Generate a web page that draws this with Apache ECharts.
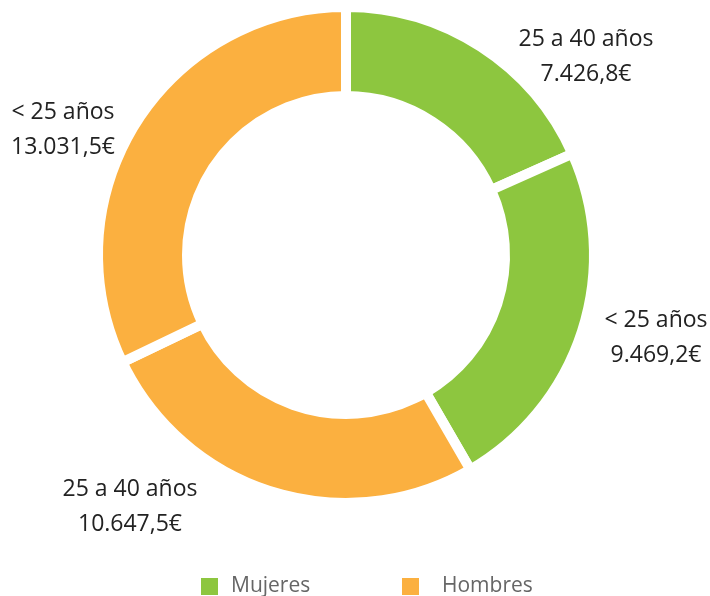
<!DOCTYPE html>
<html>
<head>
<meta charset="utf-8">
<script src="https://cdn.jsdelivr.net/npm/echarts@6/dist/echarts.min.js"></script>
<style>
html,body{margin:0;padding:0;background:#fff;}
#chart{width:710px;height:596px;}
</style>
</head>
<body>
<div id="chart"></div>
<script>
// Data
var categories = ['25 a 40 años', '< 25 años', '25 a 40 años', '< 25 años'];
var groups = ['Mujeres', 'Mujeres', 'Hombres', 'Hombres'];
var values = [7426.8, 9469.2, 10647.5, 13031.5];
var legendNames = ['Mujeres', 'Hombres'];

var colors = { 'Mujeres': '#8DC63F', 'Hombres': '#FBB040' };
var labelPos = [[586, 57], [656, 338], [130, 507], [63, 130]];
var legendLeft = [196, 397];
var legendTextPad = [8, 18];

function fmtEs(v) {
  var parts = v.toFixed(1).split('.');
  var intPart = parts[0].replace(/\B(?=(\d{3})+(?!\d))/g, '.');
  return intPart + ',' + parts[1] + '€';
}

var pieData = values.map(function (v, i) {
  return { name: categories[i], value: v, itemStyle: { color: colors[groups[i]] } };
});

var FONT = 'Open Sans';
var legends = legendNames.map(function (n, i) {
  return {
    data: [{ name: n, itemStyle: { color: colors[n] } }],
    left: legendLeft[i],
    top: 571,
    icon: 'rect',
    itemWidth: 17,
    itemHeight: 17,
    textStyle: {
      fontFamily: FONT,
      fontSize: 21,
      color: '#666666',
      padding: [0, 0, 0, legendTextPad[i]]
    }
  };
});

var chart = echarts.init(document.getElementById('chart'));
chart.setOption({
  animation: false,
  backgroundColor: '#ffffff',
  legend: legends,
  series: [
    {
      type: 'pie',
      name: 'Salario',
      center: [346, 255],
      radius: [159, 248],
      startAngle: 90,
      clockwise: true,
      avoidLabelOverlap: false,
      itemStyle: { borderColor: '#ffffff', borderWidth: 10 },
      label: {
        show: true,
        position: 'outside',
        fontFamily: FONT,
        fontSize: 23,
        color: '#222222',
        lineHeight: 35,
        align: 'center',
        formatter: function (p) { return p.name + '\n' + fmtEs(p.value); }
      },
      labelLine: { show: false },
      labelLayout: function (p) {
        var pos = labelPos[p.dataIndex];
        return { x: pos[0], y: pos[1], align: 'center', verticalAlign: 'middle' };
      },
      emphasis: { disabled: true },
      data: pieData
    },
    { type: 'pie', name: 'Mujeres', data: [], showEmptyCircle: false, itemStyle: { color: colors['Mujeres'] } },
    { type: 'pie', name: 'Hombres', data: [], showEmptyCircle: false, itemStyle: { color: colors['Hombres'] } }
  ]
});
</script>
</body>
</html>
